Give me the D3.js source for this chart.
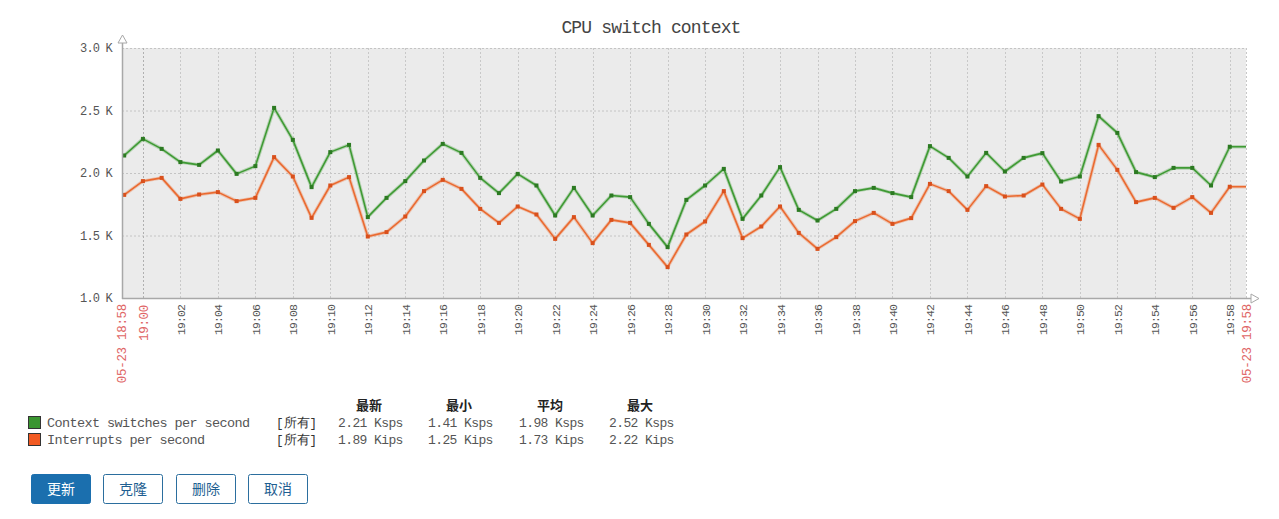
<!DOCTYPE html>
<html>
<head>
<meta charset="utf-8">
<script src="https://cdn.jsdelivr.net/npm/d3@7/dist/d3.min.js"></script>
<style>
  html, body { margin: 0; padding: 0; background: #ffffff; }
  svg { display: block; }
</style>
</head>
<body>
<svg id="chart" width="1279" height="519"></svg>
<script>
// ---------------- DATA ----------------
const chartTitle = "CPU switch context";
const times = ["18:59","19:00","19:01","19:02","19:03","19:04","19:05","19:06","19:07","19:08",
  "19:09","19:10","19:11","19:12","19:13","19:14","19:15","19:16","19:17","19:18",
  "19:19","19:20","19:21","19:22","19:23","19:24","19:25","19:26","19:27","19:28",
  "19:29","19:30","19:31","19:32","19:33","19:34","19:35","19:36","19:37","19:38",
  "19:39","19:40","19:41","19:42","19:43","19:44","19:45","19:46","19:47","19:48",
  "19:49","19:50","19:51","19:52","19:53","19:54","19:55","19:56","19:57","19:58"];
const contextSwitches = [2140,2273,2193,2087,2065,2180,1993,2055,2521,2265,
  1887,2167,2225,1647,1801,1935,2100,2233,2161,1961,
  1839,1993,1900,1660,1881,1660,1820,1807,1593,1407,
  1785,1900,2033,1633,1820,2047,1705,1620,1713,1855,
  1881,1839,1807,2215,2121,1972,2161,2012,2121,2159,
  1932,1972,2455,2321,2007,1967,2041,2041,1900,2210];
const interrupts = [1825,1935,1961,1793,1828,1847,1775,1801,2127,1972,
  1641,1900,1967,1492,1527,1652,1855,1945,1873,1713,
  1601,1732,1668,1473,1647,1439,1625,1601,1425,1247,
  1508,1612,1855,1479,1572,1732,1521,1393,1487,1615,
  1681,1593,1639,1913,1855,1705,1895,1812,1820,1908,
  1713,1633,2225,2025,1767,1801,1721,1807,1681,1890];
const timeStart = "18:58:53";
const timeEnd = "19:58:52";
const startLabel = "05-23 18:58";
const endLabel = "05-23 19:58";
const yTicks = [1000, 1500, 2000, 2500, 3000];
const yTickLabels = ["1.0 K","1.5 K","2.0 K","2.5 K","3.0 K"];
const xTickLabels = ["19:00","19:02","19:04","19:06","19:08","19:10","19:12","19:14","19:16","19:18",
  "19:20","19:22","19:24","19:26","19:28","19:30","19:32","19:34","19:36","19:38",
  "19:40","19:42","19:44","19:46","19:48","19:50","19:52","19:54","19:56","19:58"];
const hourLabels = ["19:00"];
const seriesNames = ["Context switches per second","Interrupts per second"];
const legendScope = "[所有]";
const statHeaders = ["最新","最小","平均","最大"];
const contextStats = ["2.21 Ksps","1.41 Ksps","1.98 Ksps","2.52 Ksps"];
const interruptStats = ["1.89 Kips","1.25 Kips","1.73 Kips","2.22 Kips"];
const buttonLabels = ["更新","克隆","删除","取消"];

// ---------------- LAYOUT ----------------
const svg = d3.select("#chart");
const plot = { left: 122, right: 1246, top: 48, bottom: 298 };
const mono = "'Liberation Mono', 'DejaVu Sans Mono', monospace";
const cjk = "'Noto Sans CJK SC', 'Noto Sans', sans-serif";
const colors = {
  green: "#3f9a34", greenDot: "#2c7a22", greenFill: "#3a9530",
  orange: "#ea6a30", orangeDot: "#d9501c", orangeFill: "#f25a22"
};

const parseT = d3.timeParse("%H:%M:%S");
const parseM = d3.timeParse("%H:%M");
const x = d3.scaleTime()
  .domain([parseT(timeStart), parseT(timeEnd)])
  .range([plot.left, plot.right]);
const y = d3.scaleLinear().domain([1000, 3000]).range([plot.bottom, plot.top]);

// title
svg.append("text")
  .attr("x", 651).attr("y", 33)
  .attr("text-anchor", "middle")
  .attr("font-family", mono).attr("font-size", 18).attr("letter-spacing", -0.85)
  .attr("fill", "#444").text(chartTitle);

// plot background
svg.append("rect")
  .attr("x", plot.left).attr("y", plot.top)
  .attr("width", plot.right - plot.left).attr("height", plot.bottom - plot.top)
  .attr("fill", "#ebebeb");

// horizontal grid
svg.append("g").selectAll("line").data(yTicks.filter(v => v > 1000)).join("line")
  .attr("x1", plot.left).attr("x2", plot.right)
  .attr("y1", d => y(d) + 0.5).attr("y2", d => y(d) + 0.5)
  .attr("stroke", "#c4c4c4").attr("stroke-width", 1).attr("stroke-dasharray", "2,2");

// vertical grid
svg.append("g").selectAll("line").data(xTickLabels).join("line")
  .attr("x1", d => Math.round(x(parseM(d))) + 0.5).attr("x2", d => Math.round(x(parseM(d))) + 0.5)
  .attr("y1", plot.top).attr("y2", plot.bottom)
  .attr("stroke", d => hourLabels.includes(d) ? "#b0b0b0" : "#c8c8c8")
  .attr("stroke-width", 1).attr("stroke-dasharray", "2,2");
svg.append("line")
  .attr("x1", plot.right + 0.5).attr("x2", plot.right + 0.5)
  .attr("y1", plot.top).attr("y2", plot.bottom)
  .attr("stroke", "#c8c8c8").attr("stroke-dasharray", "2,2");

// y axis labels
svg.append("g").selectAll("text").data(yTicks).join("text")
  .attr("x", 112).attr("y", d => y(d))
  .attr("dy", "0.35em").attr("text-anchor", "end")
  .attr("font-family", mono).attr("font-size", 12).attr("letter-spacing", -0.8)
  .attr("fill", "#555")
  .text((d, i) => yTickLabels[i]);

// x axis labels (rotated)
const xl = svg.append("g");
xl.selectAll("text").data(xTickLabels).join("text")
  .attr("transform", d => `translate(${x(parseM(d)) + 0.5},305) rotate(-90)`)
  .attr("text-anchor", "end").attr("dy", "0.35em")
  .attr("font-family", mono)
  .attr("font-size", d => hourLabels.includes(d) ? 12.5 : 11.5)
  .attr("letter-spacing", d => hourLabels.includes(d) ? -0.3 : -0.9)
  .attr("fill", d => hourLabels.includes(d) ? "#e06666" : "#555")
  .text(d => d);
[[plot.left, startLabel], [plot.right + 1, endLabel]].forEach(([px, lbl]) => {
  xl.append("text")
    .attr("transform", `translate(${px},304) rotate(-90)`)
    .attr("text-anchor", "end").attr("dy", "0.35em")
    .attr("font-family", mono).attr("font-size", 12.5).attr("letter-spacing", -0.3)
    .attr("fill", "#e06666").text(lbl);
});

// series
svg.append("clipPath").attr("id", "plotclip").append("rect")
  .attr("x", plot.left).attr("y", plot.top - 5)
  .attr("width", plot.right - plot.left + 1).attr("height", plot.bottom - plot.top + 5);

function drawSeries(values, lineColor, dotColor) {
  const pts = times.map((t, i) => ({ t: parseM(t), v: values[i] }));
  const ext = [{ t: x.domain()[0], v: values[0] }, ...pts, { t: x.domain()[1], v: values[values.length - 1] }];
  const line = d3.line().x(d => x(d.t)).y(d => y(d.v));
  const g = svg.append("g").attr("clip-path", "url(#plotclip)");
  g.append("path").datum(ext).attr("d", line)
    .attr("fill", "none").attr("stroke", lineColor).attr("stroke-opacity", 0.3)
    .attr("stroke-width", 3.5).attr("stroke-linejoin", "round");
  g.append("path").datum(ext).attr("d", line)
    .attr("fill", "none").attr("stroke", lineColor)
    .attr("stroke-width", 1.6).attr("stroke-linejoin", "round");
  g.selectAll("rect.dot").data(pts).join("rect").attr("class", "dot")
    .attr("x", d => x(d.t) - 2).attr("y", d => y(d.v) - 2)
    .attr("width", 4).attr("height", 4).attr("fill", dotColor);
}
drawSeries(interrupts, colors.orange, colors.orangeDot);
drawSeries(contextSwitches, colors.green, colors.greenDot);

// axes lines
svg.append("line").attr("x1", plot.left + 0.5).attr("x2", plot.left + 0.5)
  .attr("y1", 42).attr("y2", plot.bottom + 1)
  .attr("stroke", "#a8a8a8").attr("stroke-width", 1.5);
svg.append("line").attr("x1", plot.left).attr("x2", 1251)
  .attr("y1", plot.bottom + 0.5).attr("y2", plot.bottom + 0.5)
  .attr("stroke", "#a8a8a8").attr("stroke-width", 1.5);
// arrows
svg.append("path").attr("d", `M${plot.left + 0.5},35 L${plot.left + 5},43 L${plot.left - 4},43 Z`)
  .attr("fill", "#fff").attr("stroke", "#a8a8a8");
svg.append("path").attr("d", `M1259,${plot.bottom + 0.5} L1251,${plot.bottom - 4} L1251,${plot.bottom + 5} Z`)
  .attr("fill", "#fff").attr("stroke", "#a8a8a8");

// legend
const statX = [338, 428, 519, 609];
const lg = svg.append("g");
lg.selectAll("text.hdr").data(statHeaders).join("text").attr("class", "hdr")
  .attr("x", (d, i) => statX[i] + 31).attr("y", 410)
  .attr("text-anchor", "middle")
  .attr("font-family", cjk).attr("font-weight", "bold").attr("font-size", 13)
  .attr("fill", "#222").text(d => d);

const legendRows = [
  { name: seriesNames[0], fill: colors.greenFill, stats: contextStats, y: 416 },
  { name: seriesNames[1], fill: colors.orangeFill, stats: interruptStats, y: 433 }
];
legendRows.forEach(r => {
  lg.append("rect").attr("x", 28.5).attr("y", r.y + 0.5).attr("width", 12).attr("height", 12)
    .attr("fill", r.fill).attr("stroke", "#333").attr("stroke-width", 1);
  lg.append("text").attr("x", 47).attr("y", r.y + 11)
    .attr("font-family", mono).attr("font-size", 13.5).attr("letter-spacing", -0.6)
    .attr("fill", "#555").text(r.name);
  lg.append("text").attr("x", 276).attr("y", r.y + 11)
    .attr("font-family", mono).attr("font-size", 12.5).attr("fill", "#333").text(legendScope);
  lg.selectAll(null).data(r.stats).join("text")
    .attr("x", (d, i) => statX[i]).attr("y", r.y + 11)
    .attr("font-family", mono).attr("font-size", 13).attr("letter-spacing", -0.6)
    .attr("fill", "#555").text(d => d);
});

// buttons
const btnX = [31, 103, 176, 248];
const btn = svg.append("g").selectAll("g").data(buttonLabels).join("g")
  .attr("transform", (d, i) => `translate(${btnX[i]},474)`);
btn.append("rect").attr("x", 0.5).attr("y", 0.5).attr("width", 59).attr("height", 29).attr("rx", 2)
  .attr("fill", (d, i) => i === 0 ? "#1b6fae" : "#ffffff")
  .attr("stroke", (d, i) => i === 0 ? "#1b6fae" : "#2b6e9e");
btn.append("text").attr("x", 30).attr("y", 15).attr("dy", "0.35em")
  .attr("text-anchor", "middle").attr("font-family", cjk).attr("font-size", 14)
  .attr("fill", (d, i) => i === 0 ? "#ffffff" : "#1f5f92").text(d => d);
</script>
</body>
</html>
